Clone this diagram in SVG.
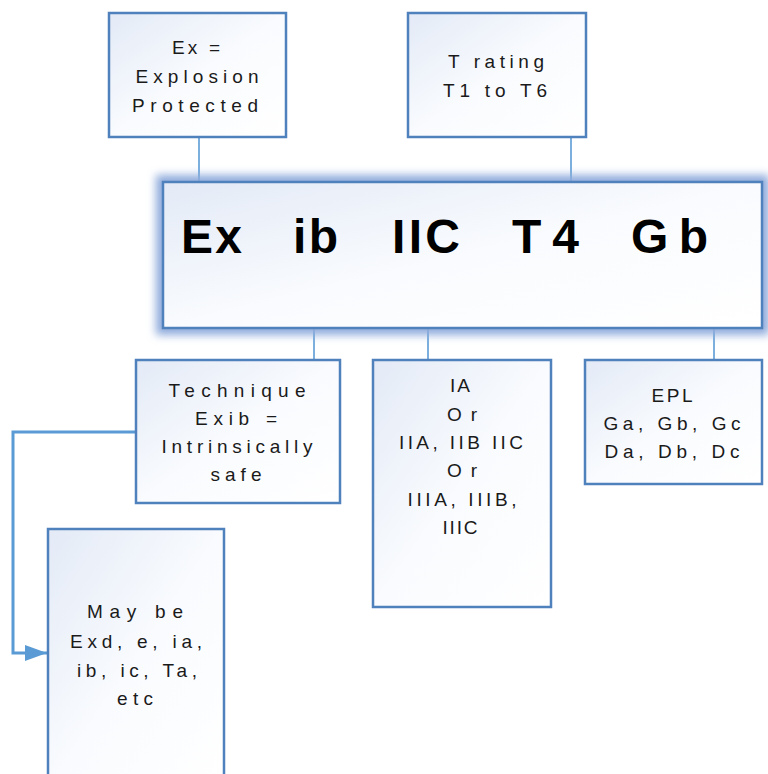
<svg xmlns="http://www.w3.org/2000/svg" width="768" height="774" viewBox="0 0 768 774">
  <defs>
    <linearGradient id="boxFill" x1="0" y1="0" x2="1" y2="1">
      <stop offset="0" stop-color="#e3eaf6"/>
      <stop offset="0.5" stop-color="#f9fbfe"/>
      <stop offset="1" stop-color="#ffffff"/>
    </linearGradient>
    <filter id="glow" x="-10%" y="-25%" width="120%" height="150%">
      <feGaussianBlur stdDeviation="4"/>
    </filter>
    <marker id="arrow" markerUnits="userSpaceOnUse" markerWidth="22" markerHeight="16" refX="22" refY="8" orient="auto">
      <path d="M0,0 L22,8 L0,16 z" fill="#5b9bd5"/>
    </marker>
  </defs>
  <style>
    .box { fill: url(#boxFill); stroke: #4f81bd; stroke-width: 2.5; }
    .lbl { font-family: "Liberation Sans", Arial, sans-serif; font-size: 19px; fill: #1a1a1a; text-anchor: middle; }
    .big { font-family: "Liberation Sans", Arial, sans-serif; font-size: 48px; font-weight: bold; fill: #000; }
    .wire { fill: none; stroke: #5b9bd5; stroke-width: 1.6; }
    .wire-thick { fill: none; stroke: #5b9bd5; stroke-width: 3; }
  </style>

  <rect width="768" height="774" fill="#ffffff"/>

  <!-- connectors -->
  <g id="connectors">
    <line class="wire" x1="199" y1="137" x2="199" y2="193"/>
    <line class="wire" x1="571" y1="137" x2="571" y2="193"/>
    <line class="wire" x1="314" y1="258" x2="314" y2="360"/>
    <line class="wire" x1="428" y1="266" x2="428" y2="360"/>
    <line class="wire" x1="714" y1="258" x2="714" y2="360"/>
    <polyline class="wire-thick" points="136,432 13,432 13,653 47,653" marker-end="url(#arrow)"/>
  </g>

  <!-- Ex = Explosion Protected -->
  <g id="node-ex">
    <rect class="box" x="109" y="13" width="177" height="124"/>
    <text class="lbl" x="196" y="54" textLength="48">Ex =</text>
    <text class="lbl" x="197" y="83" textLength="123">Explosion</text>
    <text class="lbl" x="195" y="112" textLength="126">Protected</text>
  </g>

  <!-- T rating -->
  <g id="node-trating">
    <rect class="box" x="408" y="13" width="178" height="124"/>
    <text class="lbl" x="496" y="68" textLength="96">T rating</text>
    <text class="lbl" x="495" y="97" textLength="104">T1 to T6</text>
  </g>

  <!-- main marking -->
  <g id="node-marking">
    <rect x="163" y="182" width="599" height="146" fill="none" stroke="#8eaadb" stroke-width="14" filter="url(#glow)"/>
    <rect class="box" x="163" y="182" width="599" height="146"/>
    <text class="big" x="181" y="253" textLength="61">Ex</text>
    <text class="big" x="293" y="253" textLength="45">ib</text>
    <text class="big" x="392" y="253" textLength="68">IIC</text>
    <text class="big" x="512" y="253" textLength="67">T4</text>
    <text class="big" x="631" y="253" textLength="77">Gb</text>
  </g>

  <!-- Technique -->
  <g id="node-technique">
    <rect class="box" x="136" y="360" width="204" height="143"/>
    <text class="lbl" x="237" y="397" textLength="137">Technique</text>
    <text class="lbl" x="236" y="425" textLength="82">Exib =</text>
    <text class="lbl" x="237" y="453" textLength="151">Intrinsically</text>
    <text class="lbl" x="236" y="481" textLength="51">safe</text>
  </g>

  <!-- gas group -->
  <g id="node-group">
    <rect class="box" x="373" y="360" width="178" height="247"/>
    <text class="lbl" x="460" y="392" textLength="20">IA</text>
    <text class="lbl" x="462" y="421" textLength="30">Or</text>
    <text class="lbl" x="461" y="449" textLength="124">IIA, IIB IIC</text>
    <text class="lbl" x="462" y="477" textLength="30">Or</text>
    <text class="lbl" x="462" y="506" textLength="109">IIIA, IIIB,</text>
    <text class="lbl" x="460" y="534" textLength="35">IIIC</text>
  </g>

  <!-- EPL -->
  <g id="node-epl">
    <rect class="box" x="585" y="360" width="177" height="124"/>
    <text class="lbl" x="672" y="402" textLength="41">EPL</text>
    <text class="lbl" x="672" y="430" textLength="137">Ga, Gb, Gc</text>
    <text class="lbl" x="672" y="458" textLength="135">Da, Db, Dc</text>
  </g>

  <!-- May be -->
  <g id="node-maybe">
    <rect class="box" x="48" y="529" width="176" height="260"/>
    <text class="lbl" x="135" y="618" textLength="96">May be</text>
    <text class="lbl" x="136" y="648" textLength="132">Exd, e, ia,</text>
    <text class="lbl" x="137" y="677" textLength="120">ib, ic, Ta,</text>
    <text class="lbl" x="135" y="705" textLength="36">etc</text>
  </g>
</svg>
